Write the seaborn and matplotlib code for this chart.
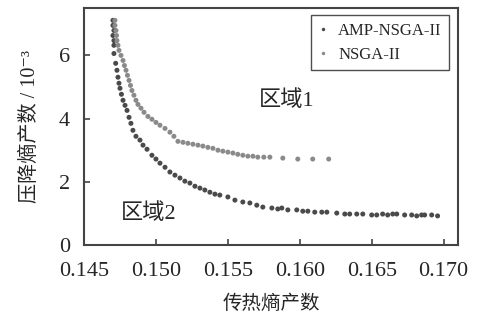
import numpy as np
import pandas as pd
import matplotlib
matplotlib.use('Agg')
import matplotlib.pyplot as plt
import seaborn as sns

# AMP-NSGA-II pareto front
amp_x = [0.14701, 0.14701, 0.14708, 0.14701, 0.14708, 0.14708, 0.14708, 0.14720, 0.14729,
         0.14736, 0.14743, 0.14750, 0.14760, 0.14771, 0.14785, 0.14799, 0.14813, 0.14826,
         0.14840, 0.14861, 0.14889, 0.14910, 0.14938, 0.14972, 0.15000, 0.15028, 0.15063,
         0.15097, 0.15132, 0.15167, 0.15201, 0.15236, 0.15271, 0.15306, 0.15340, 0.15375,
         0.15410, 0.15444, 0.15500, 0.15549, 0.15604, 0.15653, 0.15701, 0.15743, 0.15806,
         0.15847, 0.15875, 0.15917, 0.15979, 0.16021, 0.16056, 0.16104, 0.16153, 0.16188,
         0.16257, 0.16313, 0.16347, 0.16396, 0.16438, 0.16500, 0.16535, 0.16576, 0.16611,
         0.16646, 0.16674, 0.16729, 0.16778, 0.16813, 0.16847, 0.16868, 0.16917, 0.16958]
amp_y = [7.11, 6.95, 6.79, 6.63, 6.47, 6.32, 6.06, 5.75, 5.53,
         5.31, 5.12, 4.96, 4.77, 4.58, 4.42, 4.26, 4.04, 3.85,
         3.63, 3.44, 3.32, 3.16, 3.03, 2.84, 2.72, 2.59, 2.46,
         2.31, 2.21, 2.12, 2.02, 1.96, 1.86, 1.80, 1.74, 1.67,
         1.61, 1.58, 1.52, 1.42, 1.36, 1.33, 1.26, 1.20, 1.17,
         1.14, 1.17, 1.11, 1.11, 1.07, 1.07, 1.04, 1.04, 1.04,
         1.01, 0.98, 0.98, 0.98, 0.98, 0.95, 0.95, 0.98, 0.95,
         0.98, 0.98, 0.95, 0.95, 0.92, 0.95, 0.95, 0.95, 0.92]

# NSGA-II pareto front
nsga_x = [0.14715, 0.14715, 0.14722, 0.14726, 0.14729, 0.14736, 0.14743, 0.14757, 0.14771,
          0.14781, 0.14792, 0.14802, 0.14813, 0.14823, 0.14833, 0.14847, 0.14861, 0.14875,
          0.14896, 0.14917, 0.14944, 0.14972, 0.15000, 0.15028, 0.15063, 0.15097, 0.15125,
          0.15153, 0.15188, 0.15222, 0.15257, 0.15292, 0.15326, 0.15361, 0.15396, 0.15431,
          0.15465, 0.15500, 0.15535, 0.15569, 0.15604, 0.15639, 0.15674, 0.15708, 0.15750,
          0.15792, 0.15882, 0.15986, 0.16090, 0.16201]
nsga_y = [7.11, 6.95, 6.79, 6.63, 6.47, 6.32, 6.16, 6.00, 5.84,
          5.68, 5.53, 5.37, 5.21, 5.05, 4.89, 4.74, 4.58, 4.45,
          4.33, 4.20, 4.07, 3.98, 3.88, 3.79, 3.69, 3.57, 3.44,
          3.28, 3.25, 3.22, 3.19, 3.16, 3.13, 3.09, 3.06, 3.00,
          2.97, 2.94, 2.91, 2.87, 2.84, 2.81, 2.81, 2.78, 2.78,
          2.78, 2.75, 2.72, 2.72, 2.72]

series_names = ['AMP-NSGA-II', 'NSGA-II']
x_ticks = [0.145, 0.150, 0.155, 0.160, 0.165, 0.170]
y_ticks = [0, 2, 4, 6]

df = pd.concat([
    pd.DataFrame({'x': amp_x, 'y': amp_y, 'alg': series_names[0]}),
    pd.DataFrame({'x': nsga_x, 'y': nsga_y, 'alg': series_names[1]}),
])

sns.set_style('white')
plt.rcParams['font.family'] = ['Liberation Serif', 'DejaVu Serif', 'Noto Sans CJK SC']

fig = plt.figure(figsize=(4.79, 3.21), dpi=100)
ax = fig.add_axes([0.1754, 0.2368, 0.7808, 0.7382])

sns.scatterplot(data=df, x='x', y='y', hue='alg', hue_order=series_names[::-1],
                palette={'AMP-NSGA-II': '#4a4a4a', 'NSGA-II': '#8a8a8a'},
                s=13, linewidth=0, ax=ax, legend=False)

ax.set_xlim(0.145, 0.171)
ax.set_ylim(0, 7.5)
ax.set_xticks(x_ticks)
ax.set_xticklabels([f'{t:.3f}' for t in x_ticks])
ax.set_yticks(y_ticks)
ax.tick_params(direction='in', length=4, width=1.2, color='#444444', labelsize=16,
               top=False, right=False, bottom=True, left=True)
ax.tick_params(axis='x', pad=12)
ax.tick_params(axis='y', pad=10)
for sp in ax.spines.values():
    sp.set_color('#444444')
    sp.set_linewidth(1.5)

ax.set_xlabel('传热熵产数', fontsize=14, labelpad=10)
ax.set_ylabel('压降熵产数 / 10⁻³', fontsize=14.5, labelpad=14)

ax.text(0.1591, 4.58, '区域1', fontsize=16, ha='center', va='center')
ax.text(0.1495, 1.0, '区域2', fontsize=16, ha='center', va='center')

# legend
handles = [plt.Line2D([], [], ls='', marker='o', ms=2.5, color='#4a4a4a', mec='none'),
           plt.Line2D([], [], ls='', marker='o', ms=2.5, color='#8a8a8a', mec='none')]
leg = ax.legend(handles, series_names, loc='upper right', bbox_to_anchor=(0.976, 0.970),
                borderaxespad=0, fontsize=12, frameon=True, fancybox=False,
                handlelength=0.6, handletextpad=0.6, labelspacing=0.5, borderpad=0.45)
leg.get_frame().set_edgecolor('#222222')
leg.get_frame().set_linewidth(1.0)

fig.savefig('out.png', dpi=100)
